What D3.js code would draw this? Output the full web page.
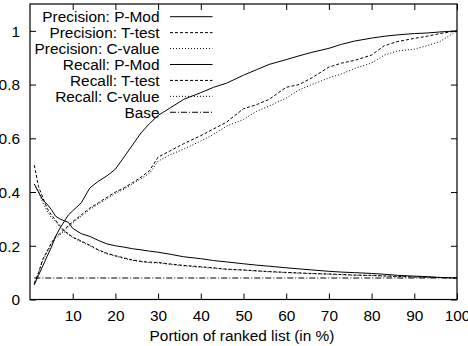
<!DOCTYPE html>
<html>
<head>
<meta charset="utf-8">
<script src="https://cdn.jsdelivr.net/npm/d3@7"></script>
<style>
  html, body { margin: 0; padding: 0; background: #fff; }
  svg { display: block; }
  text { font-family: "Liberation Sans", Arial, Helvetica, sans-serif; font-size: 15.4px; fill: #000; }
</style>
</head>
<body>
<svg id="chart" width="468" height="346"></svg>
<script>
// ---- data ----
const xs = [1,2,3,4,5,6,7,8,9,10,12,14,16,18,20,22,24,26,28,30,33,36,40,43,46,50,53,56,60,63,66,70,73,76,80,83,86,90,93,96,100];

const precisionPMod = [0.43,0.40,0.37,0.355,0.335,0.31,0.30,0.293,0.287,0.265,0.245,0.235,0.22,0.207,0.20,0.195,0.189,0.185,0.18,0.176,0.168,0.159,0.152,0.145,0.14,0.133,0.128,0.124,0.118,0.114,0.11,0.105,0.102,0.10,0.097,0.094,0.09,0.087,0.085,0.082,0.08];
const precisionTtest = [0.50,0.42,0.38,0.34,0.315,0.295,0.275,0.255,0.245,0.232,0.218,0.202,0.185,0.172,0.163,0.155,0.147,0.142,0.139,0.138,0.132,0.127,0.122,0.118,0.113,0.11,0.107,0.104,0.101,0.099,0.097,0.095,0.093,0.091,0.09,0.088,0.086,0.084,0.083,0.082,0.08];
const precisionCvalue = [0.43,0.40,0.36,0.33,0.305,0.29,0.27,0.252,0.242,0.23,0.215,0.20,0.183,0.17,0.161,0.153,0.146,0.141,0.137,0.136,0.13,0.125,0.12,0.116,0.112,0.109,0.106,0.103,0.10,0.098,0.096,0.094,0.092,0.09,0.089,0.087,0.085,0.084,0.083,0.082,0.08];
const recallPMod = [0.055,0.09,0.125,0.16,0.195,0.235,0.265,0.29,0.315,0.33,0.36,0.415,0.44,0.46,0.485,0.53,0.575,0.62,0.655,0.685,0.715,0.745,0.77,0.79,0.805,0.835,0.855,0.875,0.893,0.907,0.92,0.935,0.95,0.962,0.973,0.98,0.985,0.99,0.992,0.996,1.0];
const recallTtest = [0.06,0.10,0.15,0.18,0.21,0.235,0.245,0.26,0.275,0.29,0.315,0.34,0.36,0.38,0.40,0.415,0.435,0.455,0.48,0.53,0.555,0.58,0.61,0.635,0.66,0.71,0.725,0.745,0.79,0.80,0.825,0.865,0.88,0.89,0.91,0.945,0.96,0.972,0.98,0.99,1.0];
const recallCvalue = [0.055,0.10,0.145,0.175,0.205,0.23,0.24,0.255,0.27,0.285,0.31,0.335,0.355,0.375,0.395,0.41,0.43,0.45,0.47,0.515,0.54,0.56,0.59,0.615,0.645,0.67,0.70,0.72,0.75,0.78,0.80,0.825,0.84,0.86,0.88,0.91,0.925,0.932,0.945,0.96,1.0];
const baseValues = [0.08,0.08];
const baseXs = [1,100];

const seriesNames = ["Precision: P-Mod","Precision: T-test","Precision: C-value","Recall: P-Mod","Recall: T-test","Recall: C-value","Base"];
const xTicks = [10,20,30,40,50,60,70,80,90,100];
const yTicks = [0,0.2,0.4,0.6,0.8,1];
const yTickLabels = ["0","0.2","0.4","0.6","0.8","1"];
const xTitle = "Portion of ranked list (in %)";

// ---- styles (separate from data) ----
const dashes = {
  solid: null,
  dashed: "3,2",
  dotted: "1,2",
  dashdot: "6,2,1,2"
};
const seriesStyle = ["solid","dashed","dotted","solid","dashed","dotted","dashdot"];
const seriesData = [
  {x: xs, y: precisionPMod},
  {x: xs, y: precisionTtest},
  {x: xs, y: precisionCvalue},
  {x: xs, y: recallPMod},
  {x: xs, y: recallTtest},
  {x: xs, y: recallCvalue},
  {x: baseXs, y: baseValues}
];

// ---- layout ----
const svg = d3.select("#chart");
const L = 30, R = 457, T = 4, B = 299.5;
const FONT = '"Liberation Sans", Arial, sans-serif';
const x = d3.scaleLinear().domain([0,100]).range([L,R]);
const y = d3.scaleLinear().domain([0,1.1]).range([B,T]);

// axes with inward ticks (mirrored)
const gx = svg.append("g").attr("transform",`translate(0,${B})`)
  .call(d3.axisBottom(x).tickValues(xTicks).tickSizeInner(-6).tickSizeOuter(0).tickFormat(d3.format("d")));
gx.selectAll("text").attr("y", 21.5).attr("dy", null);
const gxt = svg.append("g").attr("transform",`translate(0,${T})`)
  .call(d3.axisTop(x).tickValues(xTicks).tickSizeInner(-6).tickSizeOuter(0).tickFormat(""));
const gy = svg.append("g").attr("transform",`translate(${L},0)`)
  .call(d3.axisLeft(y).tickValues(yTicks).tickSizeInner(-6).tickSizeOuter(0).tickFormat((d,i)=>yTickLabels[i]));
gy.selectAll("text").attr("x", -10).attr("dy","0.35em");
const gyr = svg.append("g").attr("transform",`translate(${R},0)`)
  .call(d3.axisRight(y).tickValues(yTicks).tickSizeInner(-6).tickSizeOuter(0).tickFormat(""));

[gx,gxt,gy,gyr].forEach(g => {
  g.select(".domain").remove();
  g.selectAll("line").attr("stroke","#000").attr("stroke-width",1);
  g.selectAll("text").style("font-family",FONT).style("font-size","15.4px").attr("fill","#000");
});

// border
svg.append("rect").attr("x",L).attr("y",T).attr("width",R-L).attr("height",B-T)
  .attr("fill","none").attr("stroke","#000").attr("stroke-width",1.2);

// lines
const line = d3.line().x(d=>x(d[0])).y(d=>y(d[1]));
seriesData.forEach((s,i) => {
  const pts = s.x.map((xv,j)=>[xv, s.y[j]]);
  svg.append("path").attr("d", line(pts))
    .attr("fill","none").attr("stroke","#000").attr("stroke-width",1)
    .attr("stroke-dasharray", dashes[seriesStyle[i]]);
});

// legend
const legY0 = 16.7, legDy = 15.93;
seriesNames.forEach((name,i) => {
  const yy = legY0 + legDy*i;
  svg.append("text").attr("x",159.5).attr("y",yy).attr("dy","0.35em")
    .attr("text-anchor","end").text(name);
  svg.append("line").attr("x1",170).attr("x2",212.5).attr("y1",yy).attr("y2",yy)
    .attr("stroke","#000").attr("stroke-width",1)
    .attr("stroke-dasharray", dashes[seriesStyle[i]]);
});

// x title
svg.append("text").attr("x",242).attr("y",341).attr("text-anchor","middle").text(xTitle);
</script>
</body>
</html>
